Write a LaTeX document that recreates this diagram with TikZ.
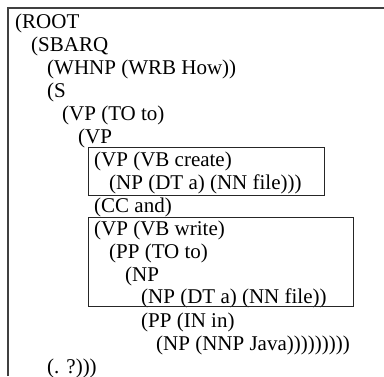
\documentclass[tikz,border=0pt]{standalone}
\usepackage{fontspec}
\setmainfont{Liberation Serif}
\usepackage{tikz}
\usetikzlibrary{positioning}
\tikzstyle{treeline} = [anchor=base west, inner sep=0, font=\fontsize{21}{23}\selectfont]
\tikzstyle{phrasebox} = [draw=black!85, line width=1pt]
\tikzstyle{frame} = [draw=black!75, line width=1.2pt]

\begin{document}
\begin{tikzpicture}[x=1pt, y=1pt]
				\useasboundingbox (0, 0) rectangle (384, -376);

				% frame
				\coordinate (FrameBottom) at (8, -376);
				\coordinate (FrameCorner) at (8, -8);
				\coordinate (FrameRight) at (384, -8);
				\draw [frame] (FrameBottom) -- (FrameCorner) -- (FrameRight);

				\node (Root) [treeline] at (15, -28) {(ROOT};
				\node (Sbarq) [treeline] at (31, -51) {(SBARQ};
				\node (Whnp) [treeline] at (47, -74) {(WHNP (WRB How))};
				\node (S) [treeline] at (47, -97) {(S};
				\node (VpTo) [treeline] at (62, -120) {(VP (TO to)};
				\node (Vp) [treeline] at (78, -143) {(VP};

				% first conjunct
				\node (VpCreate) [treeline] at (94, -166) {(VP (VB create)};
				\node (NpFile) [treeline] at (109, -189) {(NP (DT a) (NN file)))};
				\coordinate (CreateTop) at (88, -147);
				\coordinate (CreateBottom) at (324, -195);
				\draw [phrasebox] (CreateTop) rectangle (CreateBottom);

				\node (Cc) [treeline] at (94, -212) {(CC and)};

				% second conjunct
				\node (VpWrite) [treeline] at (94, -235) {(VP (VB write)};
				\node (PpTo) [treeline] at (109, -258) {(PP (TO to)};
				\node (Np) [treeline] at (125, -281) {(NP};
				\node (NpFileTwo) [treeline] at (141, -303) {(NP (DT a) (NN file))};
				\coordinate (WriteTop) at (88, -217);
				\coordinate (WriteBottom) at (353, -306);
				\draw [phrasebox] (WriteTop) rectangle (WriteBottom);

				\node (PpIn) [treeline] at (141, -327) {(PP (IN in)};
				\node (NpJava) [treeline] at (156, -350) {(NP (NNP Java)))))))))};
				\node (Punct) [treeline] at (47, -373) {(. ?)))};
\end{tikzpicture}
\end{document}
